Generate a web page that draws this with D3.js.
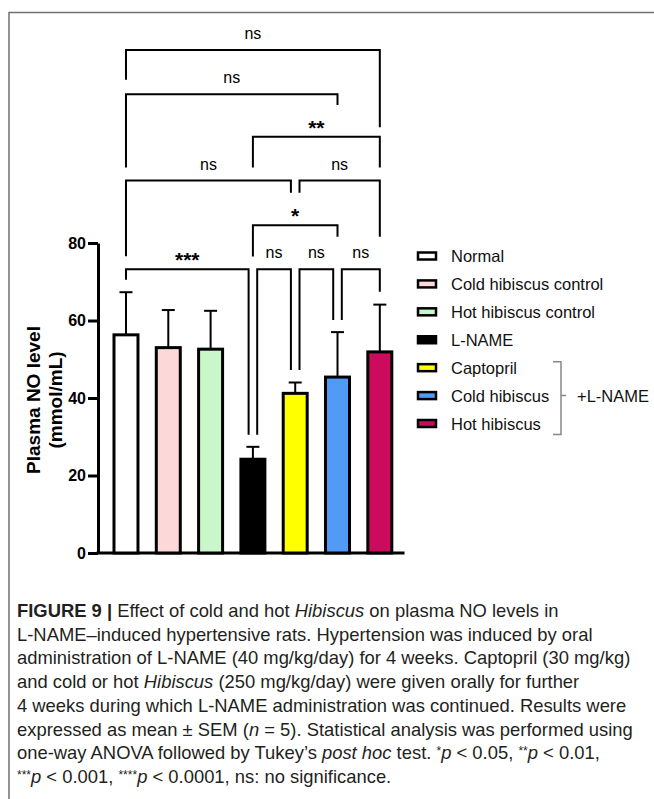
<!DOCTYPE html>
<html>
<head>
<meta charset="utf-8">
<script src="https://cdn.jsdelivr.net/npm/d3@7"></script>
<style>
  body { margin: 0; background: #fff; }
  text { font-family: "Liberation Sans", Arial, sans-serif; }
</style>
</head>
<body>
<div id="chart"></div>
<script>
// data
const categories = ["Normal", "Cold hibiscus control", "Hot hibiscus control", "L-NAME", "Captopril", "Cold hibiscus", "Hot hibiscus"];
const means = [56.3, 53.0, 52.6, 24.2, 41.2, 45.4, 51.9];
const upper = [67.3, 62.7, 62.5, 27.4, 44.0, 57.0, 64.1]; // mean + SEM
const colors = ["#ffffff", "#fcd8d8", "#c9f7c9", "#000000", "#ffff00", "#4f9bf5", "#cc0a5e"];
const yTicks = [0, 20, 40, 60, 80];
const groupLabel = "+L-NAME";
const groupMembers = [4, 5, 6];

// comparisons: from bar, to bar, label, bracket level, leg ends (y units)
const comparisons = [
  { a: 0, b: 6, label: "ns", level: 129.8, legA: 122.1, legB: 109.9 },
  { a: 0, b: 5, label: "ns", level: 118.4, legA: 99.5, legB: 115.6 },
  { a: 3, b: 6, label: "**", level: 107.4, legA: 99.5, legB: 99.5 },
  { a: 0, b: 4, label: "ns", level: 96.1, legA: 76.6, legB: 93.0 },
  { a: 4, b: 6, label: "ns", level: 96.1, legA: 93.0, legB: 81.6 },
  { a: 3, b: 5, label: "*", level: 84.6, legA: 76.5, legB: 81.6 },
  { a: 0, b: 3, label: "***", level: 73.2, legA: 70.5, legB: 30.5 },
  { a: 3, b: 4, label: "ns", level: 73.2, legA: 30.5, legB: 47.2 },
  { a: 4, b: 5, label: "ns", level: 73.2, legA: 47.2, legB: 60.1 },
  { a: 5, b: 6, label: "ns", level: 73.2, legA: 60.1, legB: 67.4 }
];

const caption = [
  [["FIGURE 9 | ", "b"], ["Effect of cold and hot "], ["Hibiscus", "i"], [" on plasma NO levels in"]],
  [["L-NAME–induced hypertensive rats. Hypertension was induced by oral"]],
  [["administration of L-NAME (40 mg/kg/day) for 4 weeks. Captopril (30 mg/kg)"]],
  [["and cold or hot "], ["Hibiscus", "i"], [" (250 mg/kg/day) were given orally for further"]],
  [["4 weeks during which L-NAME administration was continued. Results were"]],
  [["expressed as mean ± SEM ("], ["n", "i"], [" = 5). Statistical analysis was performed using"]],
  [["one-way ANOVA followed by Tukey’s "], ["post hoc", "i"], [" test. "], ["*", "s"], ["p", "i"], [" < 0.05, "], ["**", "s"], ["p", "i"], [" < 0.01,"]],
  [["***", "s"], ["p", "i"], [" < 0.001, "], ["****", "s"], ["p", "i"], [" < 0.0001, ns: no significance."]]
];

////////////////////////////////////////////////////////////////////
// svg
const width = 654, height = 799;
const svg = d3.select("#chart").append("svg")
  .attr("width", width).attr("height", height);

// frame
svg.append("path")
  .attr("d", "M9,799 V12.5 H654")
  .attr("fill", "none").attr("stroke", "#707070").attr("stroke-width", 1.5);

// scales
const x = d3.scaleBand()
  .domain(categories)
  .range([101.3, 404.5])
  .paddingInner(0.433)
  .paddingOuter(0.3);

const y = d3.scaleLinear().domain([0, 80]).range([553, 243]);
const cx = (i) => x(categories[i]) + x.bandwidth() / 2;

// y axis
const yAxis = svg.append("g")
  .attr("transform", "translate(98,0)")
  .call(d3.axisLeft(y).tickValues(yTicks).tickSize(10).tickSizeOuter(0).tickPadding(2));
yAxis.select(".domain").attr("stroke", "#000").attr("stroke-width", 3);
yAxis.selectAll(".tick line").attr("stroke", "#000").attr("stroke-width", 3);
yAxis.selectAll(".tick text")
  .attr("font-family", "Liberation Sans, Arial, sans-serif")
  .attr("font-size", 16).attr("font-weight", "bold").attr("fill", "#000");

// x axis baseline
svg.append("line")
  .attr("x1", 96.5).attr("x2", x.range()[1])
  .attr("y1", y(0)).attr("y2", y(0))
  .attr("stroke", "#000").attr("stroke-width", 3);

// y title
const yTitle = svg.append("text")
  .attr("transform", `translate(0,${(y(0) + y(80)) / 2 + 2}) rotate(-90)`)
  .attr("text-anchor", "middle")
  .attr("font-weight", "bold").attr("font-size", 19);
yTitle.append("tspan").attr("x", 0).attr("y", 40).text("Plasma NO level");
yTitle.append("tspan").attr("x", 0).attr("y", 62).text("(mmol/mL)");

// error bars
const err = svg.append("g").attr("stroke", "#000").attr("stroke-width", 2);
categories.forEach((c, i) => {
  err.append("line")
    .attr("x1", cx(i)).attr("x2", cx(i))
    .attr("y1", y(means[i])).attr("y2", y(upper[i]));
  err.append("line")
    .attr("x1", cx(i) - 6.5).attr("x2", cx(i) + 6.5)
    .attr("y1", y(upper[i])).attr("y2", y(upper[i]));
});

// bars
svg.selectAll("rect.bar")
  .data(categories)
  .enter()
  .append("rect")
  .attr("class", "bar")
  .attr("x", (d) => x(d))
  .attr("y", (d, i) => y(means[i]))
  .attr("width", x.bandwidth())
  .attr("height", (d, i) => y(0) - y(means[i]))
  .attr("fill", (d, i) => colors[i])
  .attr("stroke", "#000")
  .attr("stroke-width", 3);

// brackets - nudge legs apart when two brackets meet on the same bar at one level
const nudge = 4.3;
const legX = (cmp, end) => {
  const bar = end === "a" ? cmp.a : cmp.b;
  const shared = comparisons.some((o) => o !== cmp && o.level === cmp.level &&
    (end === "a" ? o.b === bar : o.a === bar));
  return cx(bar) + (shared ? (end === "a" ? nudge : -nudge) : 0);
};

const br = svg.append("g");
comparisons.forEach((cmp) => {
  const xa = legX(cmp, "a"), xb = legX(cmp, "b");
  br.append("path")
    .attr("d", `M${xa},${y(cmp.legA)} V${y(cmp.level)} H${xb} V${y(cmp.legB)}`)
    .attr("fill", "none").attr("stroke", "#000").attr("stroke-width", 2);
  const stars = cmp.label !== "ns";
  br.append("text")
    .attr("x", (xa + xb) / 2)
    .attr("y", y(cmp.level) - (stars ? 2 : 11))
    .attr("text-anchor", "middle")
    .attr("font-family", stars ? "DejaVu Sans, sans-serif" : "Liberation Sans, Arial, sans-serif")
    .attr("font-weight", stars ? "bold" : "normal")
    .attr("font-size", stars ? 21 : 16)
    .text(cmp.label);
});

// legend
const legendY = d3.scalePoint().domain(categories).range([256, 423.5]);
const legend = svg.append("g");
categories.forEach((c, i) => {
  legend.append("rect")
    .attr("x", 418).attr("y", legendY(c) - 3.5)
    .attr("width", 18).attr("height", 7)
    .attr("fill", colors[i]).attr("stroke", "#000").attr("stroke-width", 2.5);
  legend.append("text")
    .attr("x", 451).attr("y", legendY(c) + 6)
    .attr("font-size", 16.5).attr("fill", "#111")
    .text(c);
});

// group brace
const gTop = legendY(categories[groupMembers[0]]) - 6;
const gBot = legendY(categories[groupMembers[groupMembers.length - 1]]) + 11;
const gMid = legendY(categories[groupMembers[1]]);
legend.append("path")
  .attr("d", `M553,${gTop} H561 V${gBot} H553 M561,${gMid} H566`)
  .attr("fill", "none").attr("stroke", "#888").attr("stroke-width", 1.5);
legend.append("text")
  .attr("x", 577).attr("y", gMid + 6)
  .attr("font-size", 16.5).attr("fill", "#111")
  .text(groupLabel);

// caption
const cap = svg.append("g")
  .attr("font-size", 18.4).attr("fill", "#231f20");
caption.forEach((line, li) => {
  const t = cap.append("text").attr("x", 17).attr("y", 617 + li * 23.7);
  line.forEach(([str, st]) => {
    const s = t.append("tspan").text(str);
    if (st === "b") s.attr("font-weight", "bold");
    if (st === "i") s.attr("font-style", "italic");
    if (st === "s") s.attr("font-size", 12).attr("baseline-shift", "35%");
  });
});
</script>
</body>
</html>
